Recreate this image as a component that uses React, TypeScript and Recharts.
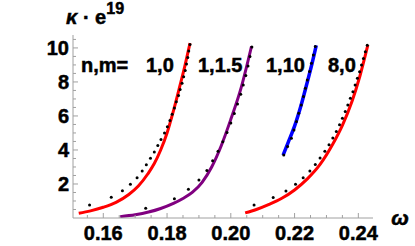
import React from 'react';
import { ComposedChart, Line, Scatter, XAxis, YAxis } from 'recharts';

// curve 1 (n,m = 1,0) red
const red1Line = [
  { x: 0.1523, y: 0.28 }, { x: 0.156, y: 0.42 }, { x: 0.16, y: 0.63 }, { x: 0.164, y: 0.92 },
  { x: 0.168, y: 1.38 }, { x: 0.171, y: 1.88 }, { x: 0.174, y: 2.6 }, { x: 0.176, y: 3.2 },
  { x: 0.178, y: 4.0 }, { x: 0.18, y: 5.0 }, { x: 0.182, y: 6.3 }, { x: 0.184, y: 7.75 },
  { x: 0.1856, y: 8.95 }, { x: 0.1872, y: 10.28 },
];
const red1Dots = [
  { x: 0.1557, y: 0.76 }, { x: 0.1625, y: 1.22 }, { x: 0.166, y: 1.6 }, { x: 0.1685, y: 1.99 },
  { x: 0.1706, y: 2.37 }, { x: 0.1722, y: 2.76 }, { x: 0.1735, y: 3.13 }, { x: 0.1748, y: 3.51 },
  { x: 0.176, y: 3.88 }, { x: 0.1771, y: 4.26 }, { x: 0.1781, y: 4.62 }, { x: 0.1792, y: 5.0 },
  { x: 0.1801, y: 5.37 }, { x: 0.1809, y: 5.74 }, { x: 0.1816, y: 6.1 }, { x: 0.1823, y: 6.47 },
  { x: 0.1829, y: 6.84 }, { x: 0.1836, y: 7.2 }, { x: 0.1841, y: 7.56 }, { x: 0.1847, y: 7.93 },
  { x: 0.1852, y: 8.3 }, { x: 0.1857, y: 8.68 }, { x: 0.1861, y: 9.06 }, { x: 0.1865, y: 9.44 },
  { x: 0.1868, y: 9.82 }, { x: 0.1872, y: 10.2 },
];

// curve 2 (n,m = 1,1.5) purple
const purpleLine = [
  { x: 0.1653, y: 0.08 }, { x: 0.17, y: 0.19 }, { x: 0.1742, y: 0.35 }, { x: 0.178, y: 0.56 },
  { x: 0.182, y: 0.86 }, { x: 0.185, y: 1.15 }, { x: 0.188, y: 1.52 }, { x: 0.191, y: 2.1 },
  { x: 0.194, y: 3.0 }, { x: 0.197, y: 4.25 }, { x: 0.2, y: 5.8 }, { x: 0.203, y: 7.5 },
  { x: 0.2065, y: 10.1 },
];
const purpleDots = [
  { x: 0.1733, y: 0.57 }, { x: 0.1823, y: 1.13 }, { x: 0.1867, y: 1.69 }, { x: 0.19, y: 2.24 },
  { x: 0.1925, y: 2.8 }, { x: 0.1943, y: 3.36 }, { x: 0.196, y: 3.92 }, { x: 0.1975, y: 4.48 },
  { x: 0.1988, y: 5.03 }, { x: 0.2, y: 5.59 }, { x: 0.2011, y: 6.15 }, { x: 0.2021, y: 6.71 },
  { x: 0.2031, y: 7.27 }, { x: 0.2039, y: 7.82 }, { x: 0.2047, y: 8.38 }, { x: 0.2054, y: 8.94 },
  { x: 0.206, y: 9.5 }, { x: 0.2066, y: 10.06 },
];

// curve 3 (n,m = 1,10) blue
const blueLine = [
  { x: 0.2164, y: 3.7 }, { x: 0.218, y: 4.45 }, { x: 0.22, y: 5.4 }, { x: 0.222, y: 6.6 },
  { x: 0.224, y: 8.0 }, { x: 0.2255, y: 9.1 }, { x: 0.2268, y: 10.15 },
];
const blueDots = [
  { x: 0.2166, y: 3.71 }, { x: 0.2178, y: 4.2 }, { x: 0.219, y: 4.69 }, { x: 0.2198, y: 5.18 },
  { x: 0.2206, y: 5.67 }, { x: 0.2213, y: 6.16 }, { x: 0.2221, y: 6.65 }, { x: 0.2228, y: 7.14 },
  { x: 0.2234, y: 7.63 }, { x: 0.224, y: 8.12 }, { x: 0.2247, y: 8.61 }, { x: 0.2253, y: 9.1 },
  { x: 0.2259, y: 9.59 }, { x: 0.2265, y: 10.08 },
];

// curve 4 (n,m = 8,0) red
const red2Line = [
  { x: 0.2045, y: 0.3 }, { x: 0.208, y: 0.5 }, { x: 0.212, y: 0.8 }, { x: 0.216, y: 1.16 },
  { x: 0.22, y: 1.65 }, { x: 0.224, y: 2.3 }, { x: 0.228, y: 3.15 }, { x: 0.232, y: 4.35 },
  { x: 0.235, y: 5.45 }, { x: 0.238, y: 6.85 }, { x: 0.2405, y: 8.35 }, { x: 0.243, y: 10.18 },
];
const red2Dots = [
  { x: 0.2073, y: 0.76 }, { x: 0.2133, y: 1.2 }, { x: 0.2173, y: 1.59 }, { x: 0.2203, y: 1.98 },
  { x: 0.2227, y: 2.37 }, { x: 0.2248, y: 2.76 }, { x: 0.2265, y: 3.14 }, { x: 0.228, y: 3.53 },
  { x: 0.2295, y: 3.92 }, { x: 0.2308, y: 4.31 }, { x: 0.232, y: 4.7 }, { x: 0.2331, y: 5.09 },
  { x: 0.2341, y: 5.48 }, { x: 0.235, y: 5.87 }, { x: 0.2359, y: 6.26 }, { x: 0.2367, y: 6.65 },
  { x: 0.2375, y: 7.04 }, { x: 0.2383, y: 7.43 }, { x: 0.239, y: 7.82 }, { x: 0.2397, y: 8.21 },
  { x: 0.2404, y: 8.6 }, { x: 0.241, y: 8.99 }, { x: 0.2416, y: 9.38 }, { x: 0.2422, y: 9.77 },
  { x: 0.2428, y: 10.16 },
];

const xTicks = [0.155, 0.16, 0.165, 0.17, 0.175, 0.18, 0.185, 0.19, 0.195, 0.2, 0.205, 0.21, 0.215, 0.22, 0.225, 0.23, 0.235, 0.24];
const xMajor = [0.16, 0.18, 0.2, 0.22, 0.24];
const yTicks = [0.5, 1, 1.5, 2, 2.5, 3, 3.5, 4, 4.5, 5, 5.5, 6, 6.5, 7, 7.5, 8, 8.5, 9, 9.5, 10, 10.5];
const yMajor = [2, 4, 6, 8, 10];

const seriesLabels = ['n,m=', '1,0', '1,1.5', '1,10', '8,0'];

const AXIS = '#a0a0a0';
const FONT = '"Liberation Sans", Arial, sans-serif';
const TXT = { fontFamily: FONT, fontWeight: 'bold' as const, fill: '#000', stroke: '#000', strokeWidth: 0.5 };

const isIn = (v: number, arr: number[]) => arr.some((a) => Math.abs(a - v) < 1e-9);

const XTick = (props: any) => {
  const { x, y, payload } = props;
  const major = isIn(payload.value, xMajor);
  return (
    <g>
      <line x1={x} x2={x} y1={y} y2={y - (major ? 5 : 3)} stroke={AXIS} strokeWidth={1} />
      {major && (
        <text x={x} y={y + 22} textAnchor="middle" fontSize={20} {...TXT}>
          {payload.value.toFixed(2)}
        </text>
      )}
    </g>
  );
};

const YTick = (props: any) => {
  const { x, y, payload } = props;
  const major = isIn(payload.value, yMajor);
  return (
    <g>
      <line x1={x} x2={x + (major ? 5 : 3)} y1={y} y2={y} stroke={AXIS} strokeWidth={1} />
      {major && (
        <text x={x - 4} y={y + 7} textAnchor="end" fontSize={20} {...TXT}>
          {String(payload.value)}
        </text>
      )}
    </g>
  );
};

const Dot = (props: any) => {
  const { cx, cy } = props;
  return <circle cx={cx} cy={cy} r={1.5} fill="#000" />;
};

export default function App() {
  return (
    <div style={{ position: 'absolute', left: 0, top: 0, width: 415, height: 246, background: '#fff' }}>
      <ComposedChart width={415} height={246} margin={{ top: 35, right: 42, bottom: 0, left: 33 }}>
        <XAxis
          type="number"
          dataKey="x"
          domain={[0.1505, 0.2446]}
          allowDataOverflow
          ticks={xTicks}
          interval={0}
          tick={<XTick />}
          tickLine={false}
          tickSize={0}
          tickMargin={0}
          axisLine={{ stroke: AXIS }}
          height={28}
        />
        <YAxis
          type="number"
          dataKey="y"
          domain={[0, 10.76]}
          allowDataOverflow
          ticks={yTicks}
          interval={0}
          tick={<YTick />}
          tickLine={false}
          tickSize={0}
          tickMargin={0}
          axisLine={{ stroke: AXIS }}
          width={40}
        />
        <Line data={red1Line} dataKey="y" type="monotone" stroke="#ff0000" strokeWidth={3} dot={false} isAnimationActive={false} />
        <Line data={purpleLine} dataKey="y" type="monotone" stroke="#800080" strokeWidth={3} dot={false} isAnimationActive={false} />
        <Line data={blueLine} dataKey="y" type="monotone" stroke="#0000ff" strokeWidth={3.5} dot={false} isAnimationActive={false} />
        <Line data={red2Line} dataKey="y" type="monotone" stroke="#ff0000" strokeWidth={3} dot={false} isAnimationActive={false} />
        <Scatter data={red1Dots} fill="#000" shape={<Dot />} isAnimationActive={false} />
        <Scatter data={purpleDots} fill="#000" shape={<Dot />} isAnimationActive={false} />
        <Scatter data={blueDots} fill="#000" shape={<Dot />} isAnimationActive={false} />
        <Scatter data={red2Dots} fill="#000" shape={<Dot />} isAnimationActive={false} />
      </ComposedChart>
      <svg width={415} height={246} style={{ position: 'absolute', left: 0, top: 0, pointerEvents: 'none' }}>
        <text x={66} y={24} fontSize={20} {...TXT}>
          <tspan fontStyle="italic">κ</tspan>
          <tspan> · e</tspan>
          <tspan dy={-10} fontSize={16}>19</tspan>
        </text>
        <text x={400} y={225} textAnchor="middle" fontStyle="italic" fontSize={21} {...TXT}>ω</text>
        <text x={81} y={71.5} fontSize={20} {...TXT}>{seriesLabels[0]}</text>
        <text x={146} y={71.5} fontSize={20} {...TXT}>{seriesLabels[1]}</text>
        <text x={198} y={71.5} fontSize={20} {...TXT}>{seriesLabels[2]}</text>
        <text x={266} y={71.5} fontSize={20} {...TXT}>{seriesLabels[3]}</text>
        <text x={328} y={71.5} fontSize={20} {...TXT}>{seriesLabels[4]}</text>
      </svg>
    </div>
  );
}
